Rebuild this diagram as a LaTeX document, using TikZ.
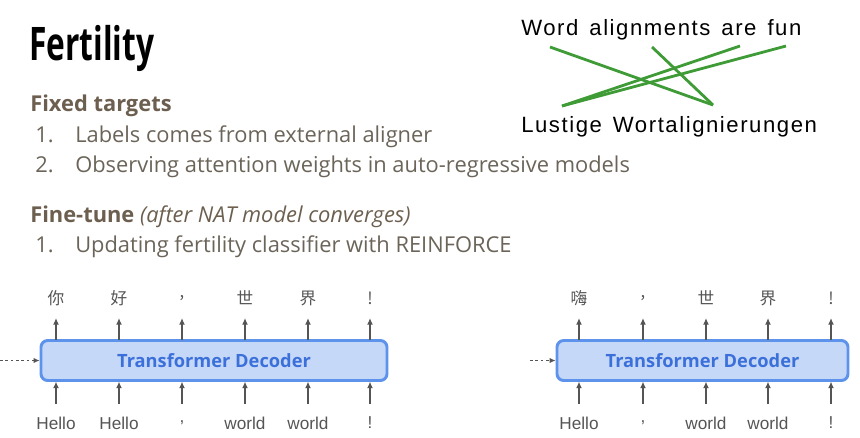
\documentclass[tikz,border=0pt]{standalone}
\usepackage{fontspec}
\usepackage{graphicx}
\setmainfont{Open Sans}
\newfontfamily\arialf{Liberation Sans}
\newfontfamily\arialw[LetterSpace=7]{Liberation Sans}
\newfontfamily\cjk{Noto Sans CJK SC}
\usetikzlibrary{arrows.meta}
\definecolor{bodytxt}{HTML}{6B6459}
\definecolor{headtxt}{HTML}{6C5F4F}
\definecolor{greenln}{HTML}{3E9B36}
\definecolor{boxfill}{HTML}{C6D8F7}
\definecolor{boxdraw}{HTML}{5E93EC}
\definecolor{boxtxt}{HTML}{3B70DA}
\definecolor{arr}{HTML}{555555}
\definecolor{lbl}{HTML}{555555}
\newcommand{\wgap}{\ \hspace{2.5pt}}
\tikzset{
  body/.style={anchor=base west, inner sep=0pt, text=bodytxt, font=\fontsize{16.4}{20}\selectfont},
  head/.style={anchor=base west, inner sep=0pt, text=headtxt, font=\fontsize{16.4}{20}\selectfont\bfseries},
  align/.style={anchor=base west, inner sep=0pt, text=black, font=\arialw\fontsize{16.6}{19}\selectfont},
  glink/.style={draw=greenln, line width=2.1pt},
  decoder/.style={draw=boxdraw, fill=boxfill, line width=2.2pt, rounded corners=5pt, inner sep=0pt, text=boxtxt, font=\fontsize{13.7}{16}\selectfont\bfseries},
  toplbl/.style={inner sep=0pt, text=lbl, font=\cjk\fontsize{12.5}{15}\selectfont},
  botlbl/.style={inner sep=0pt, text=lbl, font=\arialf\fontsize{12.9}{15}\selectfont},
  uparr/.style={draw=arr, line width=1.1pt, -{Latex[length=5pt,width=4.5pt]}},
  dasharr/.style={draw=arr, line width=0.7pt, dashed, dash pattern=on 2pt off 2pt, -{Latex[length=4.5pt,width=4pt]}}
}
\begin{document}
\begin{tikzpicture}[x=0.75pt,y=-0.75pt]
\useasboundingbox (0,0) rectangle (860,437);
% title and text
\node[anchor=base west, inner sep=0pt, font=\fontsize{34.7}{40}\selectfont\bfseries] (title) at (29,60) {\scalebox{0.685}[1]{Fertility}};
\node[head] (fixed) at (30,111) {Fixed targets};
\node[body] (n1) at (35,142) {1.};
\node[body] (l1) at (75,142) {Labels comes from external aligner};
\node[body] (n2) at (35,172) {2.};
\node[body] (l2) at (75,172) {Observing attention weights in auto-regressive models};
\node[head] (fine) at (30,222) {Fine-tune \textmd{\itshape(after NAT model converges)}};
\node[body] (n3) at (35,252) {1.};
\node[body] (l3) at (75,252) {Updating fertility classifier with REINFORCE};
% alignment
\node[align] (src) at (521,35) {Word\wgap alignments\wgap are\wgap fun};
\node[align] (tgt) at (521,132) {Lustige\wgap Wortalignierungen};
\coordinate (s1) at (550,47);
\coordinate (s2) at (652,47);
\coordinate (s3) at (740,46);
\coordinate (s4) at (786,46);
\coordinate (t1) at (562,106);
\coordinate (t2) at (713,105);
\draw[glink] (s1) -- (t2);
\draw[glink] (s2) -- (t2);
\draw[glink] (s3) -- (t1);
\draw[glink] (s4) -- (t1);
% left decoder
\node[decoder, minimum width=346*0.75pt, minimum height=40*0.75pt] (decL) at (214,360.5) {Transformer Decoder};
\coordinate (inL) at (0,360.5);
\draw[dasharr] (inL) -- (decL.west);
\foreach \x/\top/\bot [count=\i] in {56/你/Hello,119/好/Hello,182/{,}/{,},245/世/world,308/界/world,370/!/!}{
  \node[toplbl] (Ltop\i) at (\x,298) {\top};
  \node[botlbl] (Lbot\i) at (\x,423) {\bot};
  \coordinate (Lta\i) at (\x,340);
  \coordinate (Ltb\i) at (\x,318);
  \coordinate (Lba\i) at (\x,404);
  \coordinate (Lbb\i) at (\x,381.5);
  \draw[uparr] (Lta\i) -- (Ltb\i);
  \draw[uparr] (Lba\i) -- (Lbb\i);
}
% right decoder
\node[decoder, minimum width=291*0.75pt, minimum height=40*0.75pt] (decR) at (702.5,360.5) {Transformer Decoder};
\coordinate (inR) at (530,360.5);
\draw[dasharr] (inR) -- (decR.west);
\foreach \x/\top/\bot [count=\i] in {579/嗨/Hello,643/{,}/{,},706/世/world,768/界/world,831/!/!}{
  \node[toplbl] (Rtop\i) at (\x,298) {\top};
  \node[botlbl] (Rbot\i) at (\x,423) {\bot};
  \coordinate (Rta\i) at (\x,340);
  \coordinate (Rtb\i) at (\x,318);
  \coordinate (Rba\i) at (\x,404);
  \coordinate (Rbb\i) at (\x,381.5);
  \draw[uparr] (Rta\i) -- (Rtb\i);
  \draw[uparr] (Rba\i) -- (Rbb\i);
}
\end{tikzpicture}
\end{document}
